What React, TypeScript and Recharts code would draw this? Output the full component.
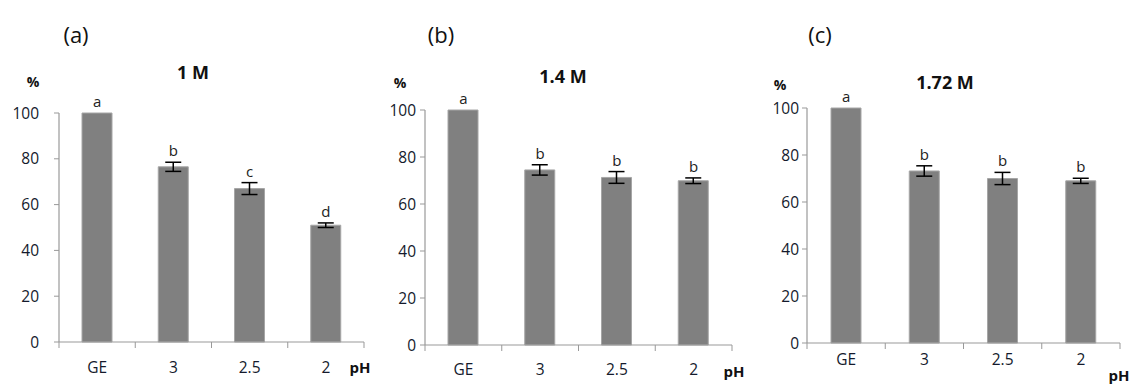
import React from "react";
import {
  ComposedChart,
  Bar,
  Line,
  XAxis,
  YAxis,
  ErrorBar,
  LabelList,
} from "recharts";

const phLabels = ["GE", "3", "2.5", "2"];
const yTicks = [0, 20, 40, 60, 80, 100];

const values1M = [100, 76.5, 67, 51];
const errors1M = [null, 2, 2.6, 1];
const letters1M = ["a", "b", "c", "d"];

const values14M = [100, 74.5, 71.3, 69.9];
const errors14M = [null, 2.2, 2.5, 1.2];
const letters14M = ["a", "b", "b", "b"];

const values172M = [100, 73.2, 70, 69];
const errors172M = [null, 2.2, 2.6, 1.1];
const letters172M = ["a", "b", "b", "b"];

const FONT = "'Open Sans', sans-serif";
const AXIS_GRAY = "#999999";
const TICK_COLOR = "#141a2c";

const buildRows = (
  values: number[],
  errors: (number | null)[],
  letters: string[]
) =>
  phLabels.map((ph, i) => ({
    ph,
    value: values[i],
    err: errors[i],
    letterY: values[i] + (errors[i] || 0),
    letter: letters[i],
  }));

// category label plus tick marks on the band edges (Excel style)
const EdgeTick = (props: any) => {
  const { x, y, payload, index, gap, band } = props;
  const half = band / 2;
  const axisY = y - gap;
  return (
    <g>
      <path d={`M${x - half},${axisY}v6`} stroke={AXIS_GRAY} strokeWidth={1} fill="none" />
      {index === phLabels.length - 1 && (
        <path d={`M${x + half},${axisY}v6`} stroke={AXIS_GRAY} strokeWidth={1} fill="none" />
      )}
      <text
        x={x}
        y={y}
        dy="0.71em"
        textAnchor="middle"
        fill={TICK_COLOR}
        fontSize={15.5}
        fontFamily={FONT}
      >
        {payload.value}
      </text>
    </g>
  );
};

type PanelProps = {
  rows: any[];
  left: number;
  width: number;
  margin: { top: number; right: number; bottom: number; left: number };
  yTickMargin: number;
  xTickMargin: number;
};

const Panel = ({ rows, left, width, margin, yTickMargin, xTickMargin }: PanelProps) => {
  const band = (width - margin.left - margin.right - 45) / phLabels.length;
  return (
    <div style={{ position: "absolute", left, top: 0 }}>
      <ComposedChart width={width} height={385} data={rows} margin={margin}>
        <XAxis
          dataKey="ph"
          axisLine={{ stroke: AXIS_GRAY, strokeWidth: 1.2 }}
          tickLine={false}
          tickSize={0}
          tickMargin={xTickMargin}
          height={36}
          interval={0}
          tick={<EdgeTick gap={xTickMargin} band={band} />}
        />
        <YAxis
          domain={[0, 100]}
          ticks={yTicks}
          width={45}
          tickSize={5}
          tickMargin={yTickMargin}
          axisLine={{ stroke: AXIS_GRAY, strokeWidth: 1.2 }}
          tickLine={{ stroke: AXIS_GRAY, strokeWidth: 1 }}
          tick={{ fill: TICK_COLOR, fontSize: 15.5, fontFamily: FONT }}
        />
        <Bar
          dataKey="value"
          barSize={30}
          fill="#808080"
          stroke="#a6a6a6"
          strokeWidth={1}
          isAnimationActive={false}
        >
          <ErrorBar dataKey="err" width={8} stroke="#000" strokeWidth={1.5} direction="y" />
        </Bar>
        <Line
          dataKey="letterY"
          stroke="none"
          dot={false}
          activeDot={false}
          isAnimationActive={false}
        >
          <LabelList
            dataKey="letter"
            position="top"
            offset={6}
            style={{ fill: "#222", fontSize: 15, fontFamily: FONT }}
          />
        </Line>
      </ComposedChart>
    </div>
  );
};

const Txt = ({
  x,
  y,
  size,
  bold,
  children,
}: {
  x: number;
  y: number;
  size: number;
  bold?: boolean;
  children: React.ReactNode;
}) => (
  <text
    x={x}
    y={y}
    textAnchor="middle"
    dominantBaseline="central"
    fontSize={size}
    fontWeight={bold ? 700 : 400}
    fontFamily={FONT}
    fill="#111"
  >
    {children}
  </text>
);

export default function App() {
  return (
    <div
      style={{
        position: "absolute",
        left: 0,
        top: 0,
        width: 1132,
        height: 385,
        background: "#fff",
        overflow: "hidden",
      }}
    >
      <Panel
        rows={buildRows(values1M, errors1M, letters1M)}
        left={0}
        width={380}
        margin={{ top: 113, right: 16, bottom: 7, left: 14 }}
        yTickMargin={15}
        xTickMargin={20}
      />
      <Panel
        rows={buildRows(values14M, errors14M, letters14M)}
        left={370}
        width={380}
        margin={{ top: 110, right: 18, bottom: 4, left: 10 }}
        yTickMargin={4}
        xTickMargin={19}
      />
      <Panel
        rows={buildRows(values172M, errors172M, letters172M)}
        left={750}
        width={382}
        margin={{ top: 108, right: 12, bottom: 6, left: 12 }}
        yTickMargin={3}
        xTickMargin={11}
      />
      <svg
        width={1132}
        height={385}
        style={{ position: "absolute", left: 0, top: 0, pointerEvents: "none" }}
      >
        <Txt x={76} y={34} size={22}>(a)</Txt>
        <Txt x={193} y={72} size={18} bold>1 M</Txt>
        <Txt x={33} y={81} size={14} bold>%</Txt>
        <Txt x={360} y={367} size={15} bold>pH</Txt>

        <Txt x={441} y={34} size={22}>(b)</Txt>
        <Txt x={563} y={76} size={18} bold>1.4 M</Txt>
        <Txt x={400} y={82} size={14} bold>%</Txt>
        <Txt x={734} y={371} size={15} bold>pH</Txt>

        <Txt x={820} y={34} size={22}>(c)</Txt>
        <Txt x={945} y={82} size={18} bold>1.72 M</Txt>
        <Txt x={780} y={84} size={14} bold>%</Txt>
        <Txt x={1119} y={375} size={15} bold>pH</Txt>
      </svg>
    </div>
  );
}
